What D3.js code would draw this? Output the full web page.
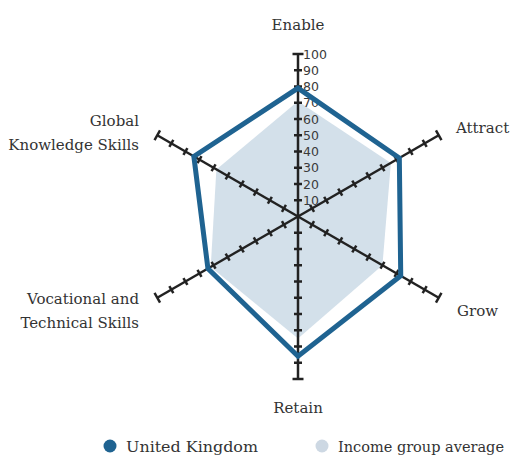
<!DOCTYPE html>
<html lang="en">
<head>
<meta charset="utf-8">
<title>Radar chart</title>
<script src="https://cdn.jsdelivr.net/npm/d3@7"></script>
<style>
  body { margin: 0; background: #fff; }
  .lbl { font-family: 'DejaVu Serif', 'Liberation Serif', serif; font-size: 15px; fill: #333; }
  .tick-num { font-family: 'DejaVu Sans', sans-serif; font-size: 12.5px; fill: #3a3a3a; }
</style>
</head>
<body>
<script>
var axes = ['Enable', 'Attract', 'Grow', 'Retain', 'Vocational and Technical Skills', 'Global Knowledge Skills'];
var ukValues = [79, 72, 73, 86, 64, 74];
var incomeValues = [71, 66, 60, 75, 62, 58];
var tickValues = [10, 20, 30, 40, 50, 60, 70, 80, 90, 100];
var legendNames = ['United Kingdom', 'Income group average'];

var width = 511, height = 455,
    cx = 298, cy = 216.5, R = 162.5;

var svg = d3.select('body').append('svg')
    .attr('width', width)
    .attr('height', height);

var r = d3.scaleLinear().domain([0, 100]).range([0, R]);
var ang = d3.scaleLinear().domain([0, axes.length]).range([0, 2 * Math.PI]);

function pt(i, v) {
    var a = ang(i);
    return [cx + r(v) * Math.sin(a), cy - r(v) * Math.cos(a)];
}

// income group area
svg.append('path')
    .datum(incomeValues)
    .attr('d', function(d) { return 'M' + d.map(function(v, i) { return pt(i, v); }).join('L') + 'Z'; })
    .attr('fill', '#d3e0ea');

// axes
var ax = svg.append('g');
axes.forEach(function(name, i) {
    var a = ang(i);
    var end = pt(i, 100);
    ax.append('line')
        .attr('x1', cx).attr('y1', cy)
        .attr('x2', end[0]).attr('y2', end[1])
        .attr('stroke', '#222').attr('stroke-width', 2.5);
    var px = Math.cos(a), py = Math.sin(a);
    tickValues.forEach(function(t) {
        var p = pt(i, t);
        var h = t === 100 ? 5.5 : 4;
        ax.append('line')
            .attr('x1', p[0] - px * h).attr('y1', p[1] - py * h)
            .attr('x2', p[0] + px * h).attr('y2', p[1] + py * h)
            .attr('stroke', '#222').attr('stroke-width', 2.5);
    });
});

// tick labels on Enable axis
svg.append('g').selectAll('text')
    .data(tickValues)
    .enter().append('text')
    .attr('class', 'tick-num')
    .attr('x', cx + 5)
    .attr('y', function(d) { return cy - r(d); })
    .attr('dominant-baseline', 'central')
    .text(function(d) { return d; });

// UK line
svg.append('path')
    .datum(ukValues)
    .attr('d', function(d) { return 'M' + d.map(function(v, i) { return pt(i, v); }).join('L') + 'Z'; })
    .attr('fill', 'none')
    .attr('stroke', '#1f6391')
    .attr('stroke-width', 5)
    .attr('stroke-linejoin', 'miter');

// category labels
var labelPos = [
    {x: 298, y: 30, anchor: 'middle'},
    {x: 456, y: 133, anchor: 'start'},
    {x: 457, y: 316, anchor: 'start'},
    {x: 298, y: 413, anchor: 'middle'},
    {x: 139, y: 304, anchor: 'end'},
    {x: 139, y: 126, anchor: 'end'}
];
var labelLines = [
    ['Enable'], ['Attract'], ['Grow'], ['Retain'],
    ['Vocational and', 'Technical Skills'],
    ['Global', 'Knowledge Skills']
];
axes.forEach(function(name, i) {
    var t = svg.append('text')
        .attr('class', 'lbl')
        .attr('x', labelPos[i].x)
        .attr('y', labelPos[i].y)
        .attr('text-anchor', labelPos[i].anchor);
    labelLines[i].forEach(function(line, j) {
        t.append('tspan')
            .attr('x', labelPos[i].x)
            .attr('dy', j === 0 ? 0 : 23.5)
            .text(line);
    });
});

// legend
var legendColors = ['#1f6391', '#cdd8e3'];
var legendX = [110, 322];
var legendW = [132, 166];
var lg = svg.append('g').selectAll('g')
    .data(legendNames)
    .enter().append('g');
lg.append('circle')
    .attr('cx', function(d, i) { return legendX[i]; })
    .attr('cy', 446)
    .attr('r', 6.5)
    .attr('fill', function(d, i) { return legendColors[i]; });
lg.append('text')
    .attr('class', 'lbl')
    .attr('x', function(d, i) { return legendX[i] + 16; })
    .attr('y', 451.5)
    .attr('textLength', function(d, i) { return legendW[i]; })
    .attr('lengthAdjust', 'spacingAndGlyphs')
    .style('font-size', '15px')
    .text(function(d) { return d; });
</script>
</body>
</html>
